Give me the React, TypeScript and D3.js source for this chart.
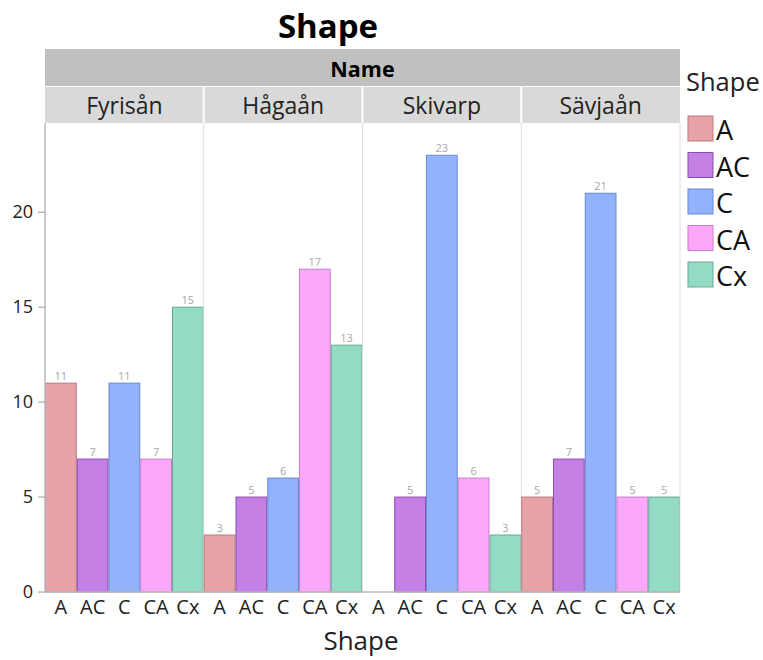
import React from "react";
import * as d3 from "d3";

const panels = ["Fyrisån", "Hågaån", "Skivarp", "Sävjaån"];
const shapes = ["A", "AC", "C", "CA", "Cx"];
const counts: number[][] = [
  [11, 7, 11, 7, 15],
  [3, 5, 6, 17, 13],
  [0, 5, 23, 6, 3],
  [5, 7, 21, 5, 5],
];
const yTicks = [0, 5, 10, 15, 20];
const fills = ["#E8A3A8", "#C480E4", "#92B2FC", "#FBA7FB", "#94DBC6"];
const strokes = ["#B77C82", "#8A4DB0", "#6C88D0", "#CC7ECC", "#6AA896"];

const W = 763, H = 660;
const plotL = 45, plotR = 680, plotT = 123, plotB = 592;
const font = "'Segoe UI', 'Open Sans', 'Noto Sans', sans-serif";

export default function App() {
  const panelScale = d3.scaleBand<string>().domain(panels).range([plotL, plotR]).padding(0);
  const y = d3.scaleLinear().domain([0, 24.7]).range([plotB, plotT]);
  const pw = panelScale.bandwidth();
  return (
    <svg width={W} height={H} style={{ position: "absolute", left: 0, top: 0, fontFamily: font }}>
      <rect width={W} height={H} fill="#fff" />
      <text x={328} y={38} textAnchor="middle" fontSize={33} fontWeight="bold" fill="#000">Shape</text>
      {/* Name header */}
      <rect x={plotL} y={49} width={plotR - plotL} height={37} fill="#C0C0C0" />
      <text x={(plotL + plotR) / 2} y={77} textAnchor="middle" fontSize={21.5} fontWeight="bold" fill="#000">Name</text>
      {panels.map((p, i) => {
        const x0 = panelScale(p)!;
        const xs = d3.scaleBand<string>().domain(shapes).range([x0, x0 + pw]).padding(0);
        return (
          <g key={p}>
            <rect x={x0 + (i === 0 ? 0 : 1)} y={87} width={pw - (i === 0 ? 1 : 2) + (i === 3 ? 1 : 0)} height={36} fill="#D9D9D9" />
            <text x={x0 + pw / 2} y={114} textAnchor="middle" fontSize={23} fill="#222">{p}</text>
            {i > 0 && <line x1={x0} x2={x0} y1={123} y2={plotB} stroke="#DDDDDD" strokeWidth={1} />}
            {shapes.map((s, j) => {
              const v = counts[i][j];
              const bx = xs(s)!;
              const bw = xs.bandwidth();
              return (
                <g key={s}>
                  {v > 0 && (
                    <rect x={bx + 0.5} y={y(v)} width={bw - 1} height={plotB - y(v)} fill={fills[j]} stroke={strokes[j]} strokeWidth={1} />
                  )}
                  {v > 0 && (
                    <text x={bx + bw / 2} y={y(v) - 3} textAnchor="middle" fontSize={11} fill="#A8A8A8">{v}</text>
                  )}
                  <text x={bx + bw / 2} y={614} textAnchor="middle" fontSize={20} fill="#222">{s}</text>
                </g>
              );
            })}
          </g>
        );
      })}
      <line x1={plotL} x2={plotL} y1={123} y2={plotB} stroke="#BBBBBB" strokeWidth={1.5} />
      <line x1={plotL} x2={plotR} y1={plotB} y2={plotB} stroke="#BBBBBB" strokeWidth={1.5} />
      <line x1={plotR} x2={plotR} y1={plotT} y2={plotB} stroke="#DDDDDD" strokeWidth={1} />
      {yTicks.map((t) => (
        <g key={t}>
          <line x1={38} x2={plotL} y1={y(t)} y2={y(t)} stroke="#999" strokeWidth={1} />
          <text x={33} y={y(t) + 6} textAnchor="end" fontSize={18} fill="#222">{t}</text>
        </g>
      ))}
      <text x={361} y={650} textAnchor="middle" fontSize={26} fill="#222">Shape</text>
      {/* Legend */}
      <text x={686} y={91} fontSize={25.5} fill="#222">Shape</text>
      {shapes.map((s, j) => (
        <g key={s}>
          <rect x={688} y={116 + j * 36.5} width={25} height={25} fill={fills[j]} stroke={strokes[j]} strokeWidth={1} />
          <text x={716} y={140 + j * 36.5} fontSize={27} fill="#111">{s}</text>
        </g>
      ))}
    </svg>
  );
}
